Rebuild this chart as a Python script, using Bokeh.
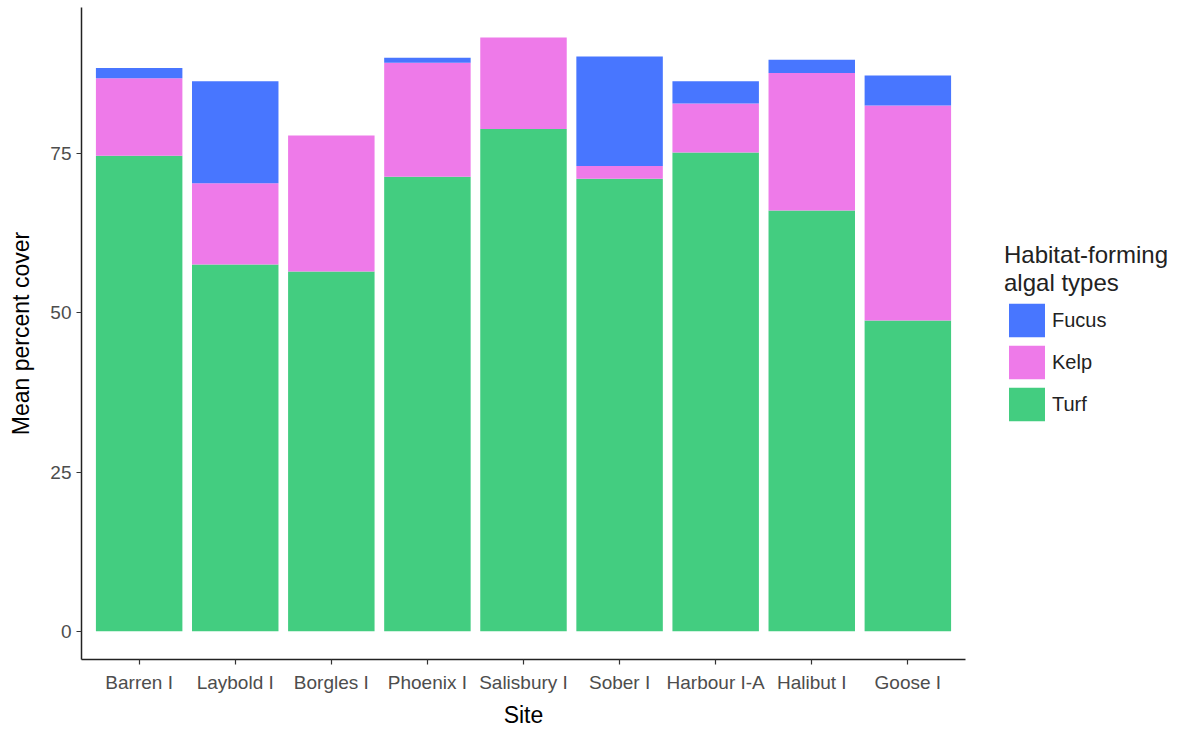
from bokeh.plotting import figure
from bokeh.models import ColumnDataSource, FactorRange, Range1d, Legend, LegendItem
from bokeh.embed import file_html
from bokeh.resources import INLINE

sites = ["Barren I", "Laybold I", "Borgles I", "Phoenix I", "Salisbury I",
         "Sober I", "Harbour I-A", "Halibut I", "Goose I"]
turf = [74.7, 57.6, 56.5, 71.4, 78.9, 71.1, 75.2, 66.1, 48.8]
kelp = [12.2, 12.8, 21.4, 17.9, 14.4, 2.0, 7.7, 21.6, 33.8]
fucus = [1.6, 16.0, 0.0, 0.8, 0.0, 17.2, 3.5, 2.1, 4.7]
types = ["Turf", "Kelp", "Fucus"]
colors = ["#43CD80", "#EE7AE9", "#4876FF"]

src = ColumnDataSource(dict(site=sites, Turf=turf, Kelp=kelp, Fucus=fucus))

FONT = "Liberation Sans"
p = figure(frame_width=884, frame_height=652, output_backend="svg", toolbar_location=None,
           x_range=FactorRange(factors=sites, range_padding=0.1, range_padding_units="absolute"),
           y_range=Range1d(-4.45, 98.0),
           min_border_left=81, min_border_right=205, min_border_top=7, min_border_bottom=62)

rs = p.vbar_stack(types, x="site", width=0.9, color=colors, line_color=None, source=src)

p.xgrid.visible = False
p.ygrid.visible = False
p.outline_line_color = None
p.background_fill_color = "white"

p.yaxis.ticker = [0, 25, 50, 75]
for ax in (p.xaxis[0], p.yaxis[0]):
    ax.axis_line_color = "#222222"
    ax.axis_line_width = 1.5
    ax.major_tick_line_color = "#333333"
    ax.major_tick_line_width = 1.2
    ax.major_tick_out = 5
    ax.major_tick_in = 0
    ax.minor_tick_line_color = None
    ax.major_label_text_font = FONT
    ax.major_label_text_font_size = "19px"
    ax.major_label_text_color = "#4D4D4D"
    ax.axis_label_text_font = FONT
    ax.axis_label_text_font_size = "23px"
    ax.axis_label_text_font_style = "normal"
    ax.axis_label_text_color = "black"

p.xaxis.axis_label = "Site"
p.xaxis.major_label_standoff = 7
p.xaxis.axis_label_standoff = 6
p.yaxis.axis_label = "Mean percent cover"
p.yaxis.major_label_standoff = 5
p.yaxis.axis_label_standoff = 13

items = [LegendItem(label="Fucus", renderers=[rs[2]]),
         LegendItem(label="Kelp", renderers=[rs[1]]),
         LegendItem(label="Turf", renderers=[rs[0]])]
leg = Legend(items=items, location="left", title="Habitat-forming\nalgal types",
             title_text_font=FONT, title_text_font_size="24px", title_text_font_style="normal",
             title_text_color="#222222", title_standoff=2,
             label_text_font=FONT, label_text_font_size="20px", label_text_color="#222222",
             glyph_width=45, glyph_height=42, spacing=0, label_standoff=3,
             padding=8, margin=39, border_line_color=None, background_fill_alpha=0)
p.add_layout(leg, "right")

open("out.html", "w").write(file_html(p, INLINE))
